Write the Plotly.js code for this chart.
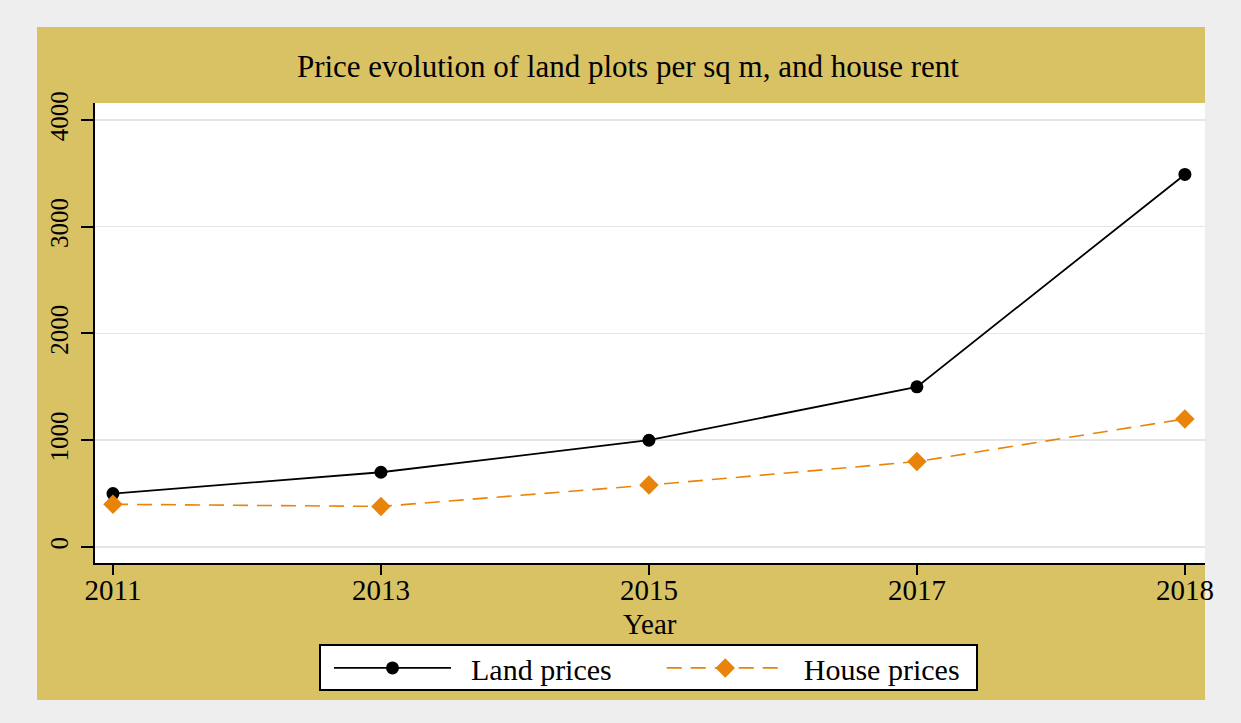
<!DOCTYPE html>
<html>
<head>
<meta charset="utf-8">
<script src="https://cdn.plot.ly/plotly-3.0.1.min.js"></script>
<style>
  html, body { margin:0; padding:0; background:#eeeeee; width:1241px; height:723px; overflow:hidden; }
  #chart { position:absolute; left:0; top:0; width:1241px; height:723px; }
</style>
</head>
<body>
<div id="chart"></div>
<script>
const years = ["2011", "2013", "2015", "2017", "2018"];
const landPrices = [500, 700, 1000, 1500, 3490];
const housePrices = [400, 380, 580, 800, 1200];
const titleText = "Price evolution of land plots per sq m, and house rent";
const xTitle = "Year";
const seriesNames = ["Land prices", "House prices"];
const yTicks = [0, 1000, 2000, 3000, 4000];

const FONT = "'Liberation Serif', 'Times New Roman', serif";
const NB = "\u00a0";

const traces = [
  {
    x: years, y: landPrices, name: NB + NB + seriesNames[0] + NB.repeat(6), type: "scatter", mode: "lines+markers",
    line: {color: "#000000", width: 1.8},
    marker: {symbol: "circle", size: 13, color: "#000000"}
  },
  {
    x: years, y: housePrices, name: NB + NB + seriesNames[1], type: "scatter", mode: "lines+markers",
    line: {color: "#e8840a", width: 1.6, dash: "15px,9px"},
    marker: {symbol: "diamond", size: 15, color: "#e8840a"}
  }
];

const layout = {
  width: 1241, height: 723,
  margin: {l: 95, r: 36, t: 103, b: 160, pad: 0},
  paper_bgcolor: "#eeeeee",
  plot_bgcolor: "#ffffff",
  font: {family: FONT, color: "#000000", size: 29},
  title: {
    text: titleText, font: {family: FONT, size: 31, color: "#000"},
    xref: "container", x: 0.506, xanchor: "center",
    yref: "container", y: 0.908, yanchor: "middle"
  },
  shapes: [
    {type: "rect", xref: "paper", yref: "paper", x0: -0.05225, x1: 1.0, y0: -0.2978, y1: 1.1652,
     fillcolor: "#d9c264", line: {width: 0}, layer: "below"},
    {type: "rect", xref: "paper", yref: "paper", x0: 0, x1: 1, y0: 0, y1: 1,
     fillcolor: "#ffffff", line: {width: 0}, layer: "below"},
    {type: "rect", xref: "paper", yref: "paper", x0: 0.2027, x1: 0.7946, y0: -0.2761, y1: -0.1783,
     fillcolor: "#ffffff", line: {width: 2, color: "#000"}, layer: "below"}
  ],
  annotations: [
    {text: xTitle, xref: "paper", yref: "paper", x: 0.5, y: -0.1326, xanchor: "center", yanchor: "middle",
     showarrow: false, font: {family: FONT, size: 29}}
  ],
  xaxis: {
    type: "category",
    range: [-0.067, 4.075],
    showline: true, linecolor: "#000", linewidth: 2,
    ticks: "outside", ticklen: 10, tickwidth: 2, tickcolor: "#000",
    showgrid: false, zeroline: false,
    ticklabelstandoff: -10,
    tickfont: {family: FONT, size: 29}
  },
  yaxis: {
    range: [-150, 4159],
    tickvals: yTicks,
    showline: true, linecolor: "#000", linewidth: 2,
    ticks: "outside", ticklen: 12, tickwidth: 2, tickcolor: "#000",
    showgrid: true, gridcolor: "#e6e6e6", gridwidth: 1.5,
    zeroline: false,
    tickangle: -90,
    ticklabelstandoff: 3,
    tickfont: {family: FONT, size: 25}
  },
  showlegend: true,
  legend: {
    orientation: "h",
    x: 0.2108, xanchor: "left",
    y: -0.228, yanchor: "middle",
    bgcolor: "rgba(0,0,0,0)", borderwidth: 0,
    font: {family: FONT, size: 30},
    itemwidth: 117,
    tracegroupgap: 0
  }
};

Plotly.newPlot("chart", traces, layout, {displayModeBar: false, staticPlot: true});
</script>
</body>
</html>
